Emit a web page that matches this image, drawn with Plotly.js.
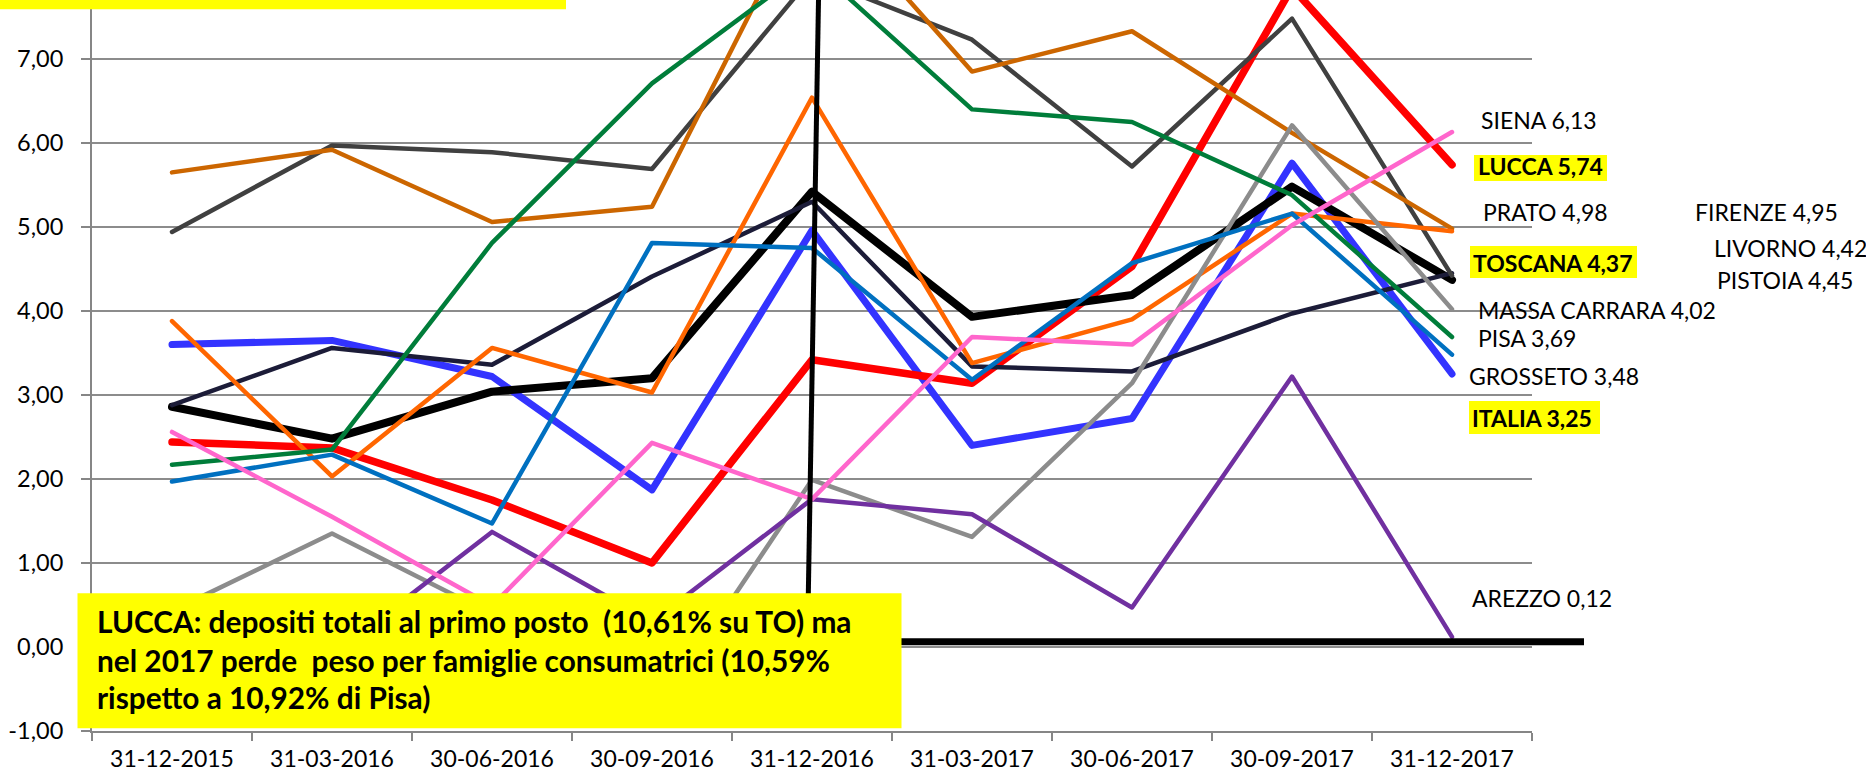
<!DOCTYPE html>
<html>
<head>
<meta charset="utf-8">
<script src="https://cdn.plot.ly/plotly-3.0.1.min.js"></script>
<style>
html,body{margin:0;padding:0;background:#fff;}
#chart{width:1866px;height:777px;}
.js-line{stroke-linejoin:round;stroke-linecap:round;}
</style>
</head>
<body>
<div id="chart"></div>
<script>
// ---- data ----
const dates = ['31-12-2015','31-03-2016','30-06-2016','30-09-2016','31-12-2016','31-03-2017','30-06-2017','30-09-2017','31-12-2017'];

const italia   = [3.60, 3.65, 3.22, 1.87, 4.96, 2.40, 2.72, 5.76, 3.25];
const lucca    = [2.44, 2.37, 1.75, 1.00, 3.42, 3.14, 4.53, 7.85, 5.74];
const toscana  = [2.86, 2.48, 3.04, 3.20, 5.42, 3.93, 4.19, 5.48, 4.37];
const pistoia  = [2.88, 3.56, 3.36, 4.41, 5.30, 3.34, 3.28, 3.97, 4.45];
const livorno  = [4.94, 5.97, 5.89, 5.69, 7.98, 7.23, 5.72, 7.48, 4.42];
const prato    = [5.65, 5.92, 5.06, 5.24, 9.00, 6.85, 7.33, 6.12, 4.98];
const firenze  = [3.88, 2.03, 3.56, 3.03, 6.54, 3.38, 3.90, 5.16, 4.95];
const massa    = [0.43, 1.35, 0.39, -0.85, 1.99, 1.31, 3.14, 6.21, 4.02];
const arezzo   = [0.30, -0.10, 1.37, 0.30, 1.76, 1.58, 0.47, 3.22, 0.12];
const pisa     = [2.17, 2.35, 4.81, 6.71, 8.12, 6.40, 6.25, 5.38, 3.69];
const grosseto = [1.97, 2.29, 1.47, 4.81, 4.75, 3.18, 4.57, 5.16, 3.48];
const siena    = [2.56, 1.55, 0.49, 2.43, 1.76, 3.69, 3.60, 5.02, 6.13];

const yTickVals = [-1, 0, 1, 2, 3, 4, 5, 6, 7];
const yTickText = ['-1,00','0,00','1,00','2,00','3,00','4,00','5,00','6,00','7,00'];

const endLabels = ['SIENA 6,13','LUCCA 5,74','PRATO 4,98','FIRENZE 4,95','TOSCANA 4,37','LIVORNO 4,42',
                   'PISTOIA 4,45','MASSA CARRARA 4,02','PISA 3,69','GROSSETO 3,48','ITALIA 3,25','AREZZO 0,12'];

const noteLines = ['LUCCA: depositi totali al primo posto \u00a0(10,61% su TO) ma',
                   'nel 2017 perde \u00a0peso per famiglie consumatrici (10,59%',
                   'rispetto a 10,92% di Pisa)'];

// ---- styling ----
const series = [
  {name:'ITALIA', y:italia, color:'#3333FF', width:7},
  {name:'LUCCA', y:lucca, color:'#FF0000', width:7.5},
  {name:'TOSCANA', y:toscana, color:'#000000', width:8},
  {name:'PISTOIA', y:pistoia, color:'#1C1C38', width:4.5},
  {name:'LIVORNO', y:livorno, color:'#404040', width:4.5},
  {name:'PRATO', y:prato, color:'#CC6600', width:4.5},
  {name:'FIRENZE', y:firenze, color:'#FF6600', width:4.5},
  {name:'MASSA CARRARA', y:massa, color:'#8C8C8C', width:4.5},
  {name:'AREZZO', y:arezzo, color:'#7030A0', width:4.5},
  {name:'PISA', y:pisa, color:'#007D3A', width:4.5},
  {name:'GROSSETO', y:grosseto, color:'#0070C0', width:4.5},
  {name:'SIENA', y:siena, color:'#FF66CC', width:4.5}
];

const traces = series.map(s => ({
  type:'scatter', mode:'lines', name:s.name, x:dates, y:s.y,
  line:{color:s.color, width:s.width}, hoverinfo:'name+y'
}));

// page geometry (pixels)
const W = 1866, H = 777, ML = 92, MR = 334, MT = 0, MB = 46;
const PW = W - ML - MR, PH = H - MT - MB;
const px = X => (X - ML) / PW;
const py = Y => 1 - (Y - MT) / PH;

// label positions: [left x, center y, bold]
const labelPos = [
  [1479, 120, false],
  [1476, 166, true],
  [1481, 212, false],
  [1693, 212, false],
  [1471, 263, true],
  [1712, 248, false],
  [1715, 280, false],
  [1476, 310, false],
  [1476, 338, false],
  [1467, 376, false],
  [1470, 418, true],
  [1470, 598, false]
];
const hiBoxes = [[1474,155,1607,181],[1470,246,1637,278],[1469,401,1600,434]];

const FONT = 'Lato, "Open Sans", sans-serif';

const annotations = endLabels.map((t,i) => ({
  xref:'paper', yref:'paper', x:px(labelPos[i][0]), y:py(labelPos[i][1]),
  xanchor:'left', yanchor:'middle', showarrow:false,
  text: labelPos[i][2] ? '<b>'+t+'</b>' : t,
  font:{family:FONT, size:23, color:'#000'}
}));
const noteY = [621, 660, 697];
noteLines.forEach((t,i) => annotations.push({
  xref:'paper', yref:'paper', x:px(95), y:py(noteY[i]), xanchor:'left', yanchor:'middle',
  showarrow:false, text:'<b>'+t+'</b>', font:{family:FONT, size:29.8, color:'#000'}
}));

const shapes = [
  // black pointer lines
  {type:'line', xref:'paper', yref:'paper', x0:px(818.5), y0:py(0), x1:px(807.5), y1:py(641.7),
   line:{color:'#000', width:5}, layer:'above'},
  {type:'line', xref:'paper', yref:'paper', x0:px(805), y0:py(641.7), x1:px(1584), y1:py(641.7),
   line:{color:'#000', width:7}, layer:'above'},
  // yellow text box bottom
  {type:'rect', xref:'paper', yref:'paper', x0:px(77.5), y0:py(728.3), x1:px(901.5), y1:py(593.3),
   fillcolor:'#FFFF00', line:{width:0}, layer:'above'},
  // yellow box top (clipped title)
  {type:'rect', xref:'paper', yref:'paper', x0:px(0), y0:py(9.3), x1:px(566), y1:py(-2),
   fillcolor:'#FFFF00', line:{width:0}, layer:'above'}
];
hiBoxes.forEach(b => shapes.push({type:'rect', xref:'paper', yref:'paper',
  x0:px(b[0]), y0:py(b[3]), x1:px(b[2]), y1:py(b[1]), fillcolor:'#FFFF00', line:{width:0}, layer:'above'}));

const layout = {
  width:W, height:H, autosize:false,
  margin:{l:ML, r:MR, t:MT, b:MB, pad:0},
  paper_bgcolor:'#fff', plot_bgcolor:'#fff',
  showlegend:false,
  font:{family:FONT, color:'#000'},
  xaxis:{type:'category', range:[-0.5, 8.5], tickson:'boundaries', ticks:'outside', ticklen:8,
         tickwidth:2, tickcolor:'#868686', showline:true, linecolor:'#868686', linewidth:2,
         showgrid:false, zeroline:false, tickfont:{family:FONT, size:23, color:'#000'},
         ticklabelstandoff:6, fixedrange:true},
  yaxis:{range:[-1, 7.702], tickvals:yTickVals, ticktext:yTickText, ticks:'outside', ticklen:9,
         tickwidth:2, tickcolor:'#868686', showline:true, linecolor:'#868686', linewidth:2,
         showgrid:true, gridcolor:'#8C8C8C', gridwidth:2, zeroline:false,
         tickfont:{family:FONT, size:23.5, color:'#000'}, ticklabelstandoff:13, fixedrange:true},
  shapes:shapes,
  annotations:annotations
};

Plotly.newPlot('chart', traces, layout, {displayModeBar:false, staticPlot:true});
</script>
</body>
</html>
